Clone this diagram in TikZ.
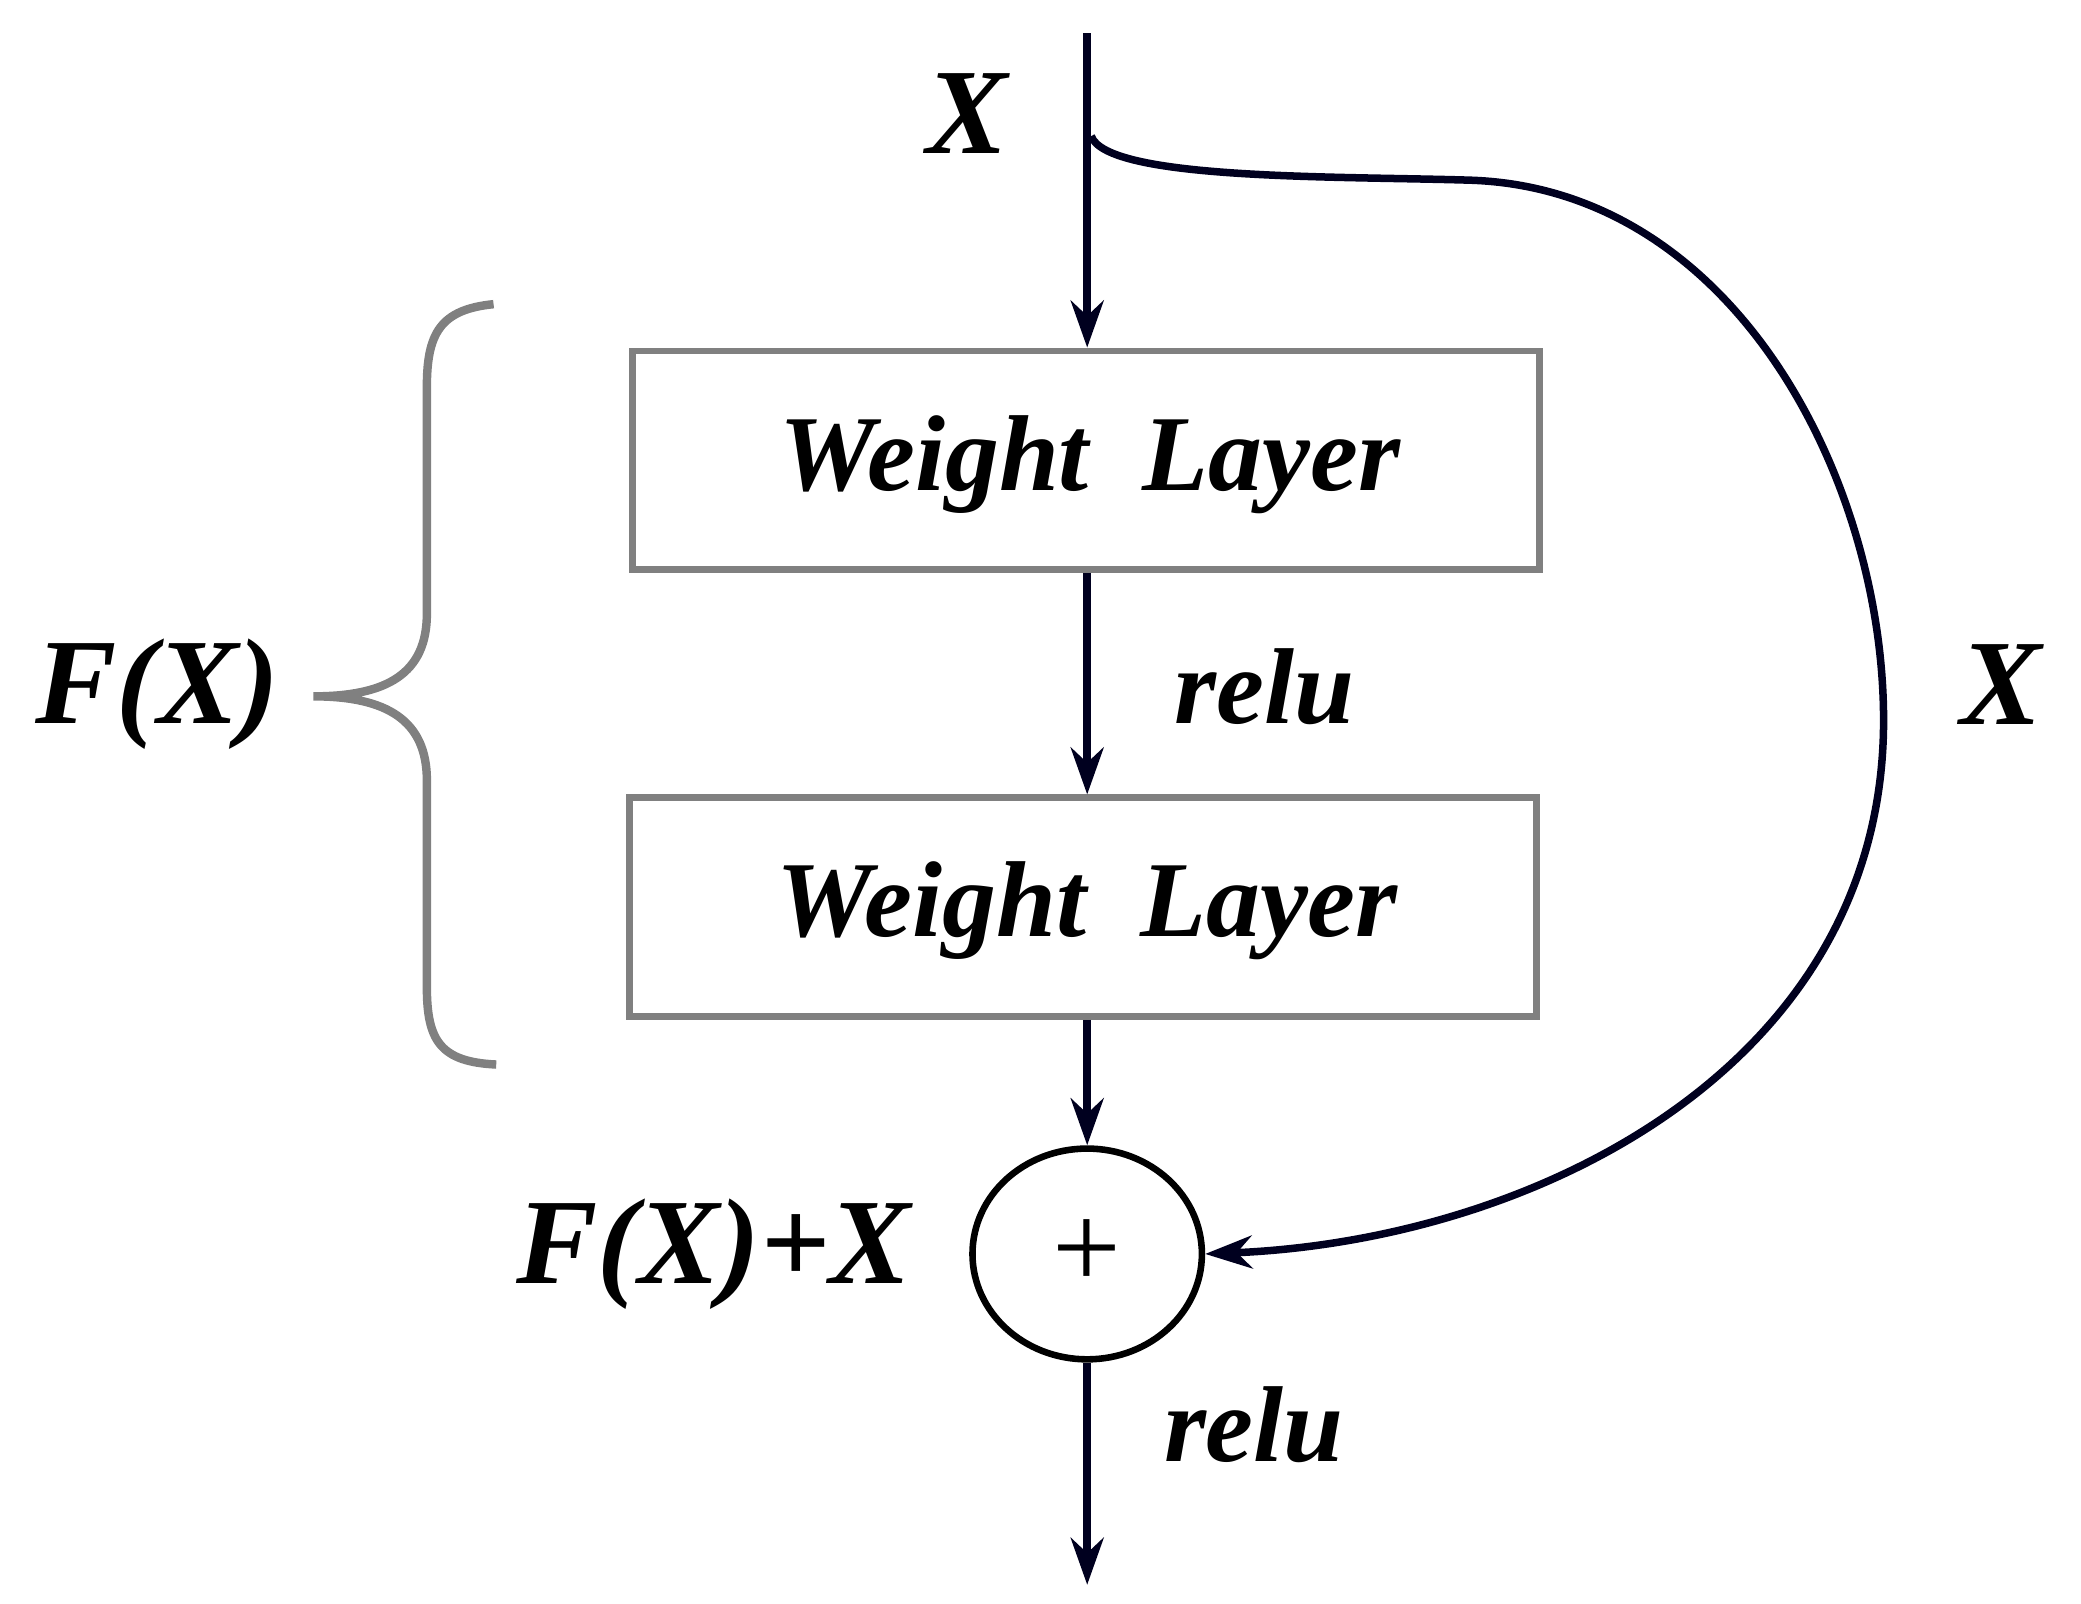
\documentclass[tikz,border=0pt]{standalone}
\usepackage{fontspec}
\setmainfont{Liberation Serif}
\usetikzlibrary{arrows.meta,shapes.geometric}
\begin{document}
\begin{tikzpicture}[x=0.01cm,y=-0.01cm,
  ln/.style={draw=black!80!blue!60!black,line width=1.6pt},
  arr/.style={ln,-{Stealth[length=10pt,width=7pt]}},
  box/.style={draw=gray,line width=1.4pt,minimum width=680*0.01cm,minimum height=164*0.01cm,inner sep=0pt},
  lbl/.style={font=\fontsize{23}{26}\selectfont\bfseries\itshape},
  big/.style={font=\fontsize{26}{30}\selectfont\bfseries\itshape}]
\useasboundingbox (0,0) rectangle (1560,1202);
\coordinate (top) at (815,25);
\coordinate (bot) at (815,1188);
\node[box] (b1) at (814,345) {};
\node[lbl] at (817,348) {Weight\ \ Layer};
\node[box] (b2) at (812,680) {};
\node[lbl] at (815,683) {Weight\ \ Layer};
\node[draw=black,line width=1.4pt,ellipse,minimum width=172*0.01cm,minimum height=158*0.01cm,inner sep=0pt] (add) at (815,940) {};
\node[font=\fontsize{26}{30}\selectfont] at (815,940) {+};
\draw[arr] (top) -- (b1.north -| top);
\draw[arr] (b1.south -| top) -- (b2.north -| top);
\draw[arr] (b2.south -| top) -- (add.north);
\draw[arr] (add.south) -- (bot);
\coordinate (s) at (818,102);
\draw[arr] (s) .. controls (830,135) and (1000,132) .. (1100,135)
  .. controls (1300,140) and (1412,360) .. (1412,540)
  .. controls (1412,800) and (1150,930) .. (add.east);
\node[big] at (725,85) {X};
\node[lbl] at (948,515) {relu};
\node[big] at (1500,513) {X};
\node[lbl] at (940,1068) {relu};
\node[big] at (535,940) {F(X)+X};
\node[big] at (118,520) {F(X)};
\draw[gray,line width=1.8pt] (370,228) .. controls (330,232) and (320,250) .. (320,290)
  -- (320,460) .. controls (320,505) and (290,522) .. (235,522)
  .. controls (290,522) and (320,540) .. (320,585)
  -- (320,740) .. controls (320,780) and (330,796) .. (372,798);
\end{tikzpicture}
\end{document}
